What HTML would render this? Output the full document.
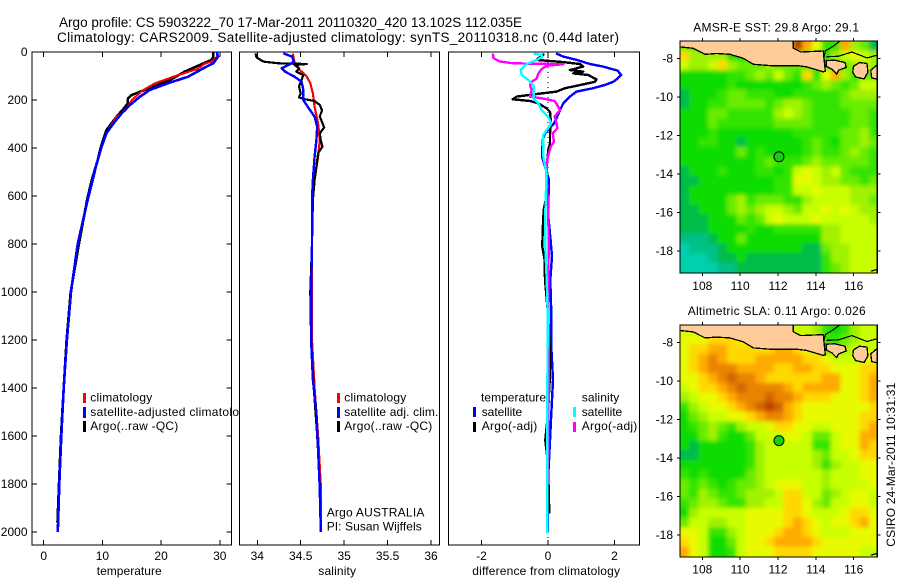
<!DOCTYPE html>
<html>
<head>
<meta charset="utf-8">
<title>Argo profile chart</title>
<style>
html,body{margin:0;padding:0;background:#fff;width:900px;height:580px;overflow:hidden}
svg{display:block}
text{font-family:"Liberation Sans",sans-serif;font-size:12px;fill:#000}
.title{font-size:13.5px}
.crisp{shape-rendering:crispEdges}
</style>
</head>
<body>
<svg id="chart" xmlns="http://www.w3.org/2000/svg" width="900" height="580" viewBox="0 0 900 580">
  <defs>
    <filter id="map-soften" filterUnits="userSpaceOnUse" x="640" y="0" width="260" height="580"><feGaussianBlur stdDeviation="2"/></filter>
    <clipPath id="clip-sst"><rect x="680" y="41" width="197.3" height="232"/></clipPath>
    <clipPath id="clip-sla"><rect x="680" y="325" width="197.3" height="232"/></clipPath>
  </defs>
  <rect x="0" y="0" width="900" height="580" fill="#fff"/>
  <text class="title" x="59" y="27" textLength="463">Argo profile: CS 5903222_70 17-Mar-2011 20110320_420 13.102S 112.035E</text>
  <text class="title" x="57" y="42" textLength="562">Climatology: CARS2009. Satellite-adjusted climatology: synTS_20110318.nc (0.44d later)</text>

  <g id="panel-t"></g>
  <g>
    <text x="90.3" y="401.7" textLength="62">climatology</text>
    <text x="90.3" y="416" textLength="162">satellite-adjusted climatology</text>
    <text x="90.3" y="430" textLength="88">Argo(..raw -QC)</text>
    <rect class="crisp" x="83" y="393" width="3" height="10" fill="#f00"/>
    <rect class="crisp" x="83" y="407" width="3" height="11" fill="#00f"/>
    <rect class="crisp" x="83" y="421" width="3" height="11" fill="#000"/>
  </g>

  <g id="panel-s"></g>
  <g>
    <text x="344.3" y="401.7" textLength="62">climatology</text>
    <text x="344.3" y="416" textLength="94">satellite adj. clim.</text>
    <text x="344.3" y="430" textLength="88">Argo(..raw -QC)</text>
    <rect class="crisp" x="337" y="393" width="3" height="10" fill="#f00"/>
    <rect class="crisp" x="337" y="407" width="3" height="11" fill="#00f"/>
    <rect class="crisp" x="337" y="421" width="3" height="11" fill="#000"/>
    <text x="326.7" y="516.7" textLength="97.7">Argo AUSTRALIA</text>
    <text x="326.7" y="530.7" textLength="95">PI: Susan Wijffels</text>
  </g>

  <g id="panel-d"></g>
  <g>
    <text x="481" y="401.7" textLength="65">temperature</text>
    <text x="481.7" y="416" textLength="40.5">satellite</text>
    <text x="481.7" y="430" textLength="55.6">Argo(-adj)</text>
    <rect class="crisp" x="473" y="407" width="3" height="10" fill="#00f"/>
    <rect class="crisp" x="473" y="422" width="3" height="10" fill="#000"/>
    <text x="581.7" y="401.7" textLength="37.6">salinity</text>
    <text x="581.7" y="416" textLength="40.5">satellite</text>
    <text x="581.7" y="430" textLength="55.6">Argo(-adj)</text>
    <rect class="crisp" x="573" y="407" width="3" height="10" fill="#0ff"/>
    <rect class="crisp" x="573" y="422" width="3" height="10" fill="#f0f"/>
  </g>

  <text x="96.7" y="575" textLength="65">temperature</text>
  <text x="318.3" y="575" textLength="37.7">salinity</text>
  <text x="472.3" y="575" textLength="147.7">difference from climatology</text>

  <text x="693.3" y="31.7" textLength="165.7">AMSR-E SST: 29.8 Argo: 29.1</text>
  <g id="map-sst"></g>
  <text x="687.7" y="315" textLength="178">Altimetric SLA: 0.11 Argo: 0.026</text>
  <g id="map-sla"></g>
  <text transform="translate(895,546.7) rotate(-90)" textLength="164">CSIRO 24-Mar-2011 10:31:31</text>
</svg>
<script>
// ---- profile axes ----
const depthTicks = [0,200,400,600,800,1000,1200,1400,1600,1800,2000];
const tempTicks = [0,10,20,30];
const salTicks = [34,34.5,35,35.5,36];
const salTickLabels = ['34','34.5','35','35.5','36'];
const diffTicks = [-2,0,2];

// ---- temperature profiles ----
const tClimDepth = [0,20,40,50,70,103,130,158,200,244,270,338,400,478,533,616,800,1000,1200,1400,1600,1800,2000];
const tClimValue = [29.6,29.5,28.6,27.3,26.3,22.1,19,17,15,13.9,12.4,10.7,9.8,8.85,8.3,7.5,5.85,4.7,4,3.45,3,2.7,2.45];
const tSatDepth = [0,20,47,60,103,130,158,186,221,255,297,338,400,478,533,616,800,1000,1200,1400,1600,1800,2000];
const tSatValue = [29.5,29.7,28.9,27.8,24.6,21.2,18.1,16.4,14.7,13.3,11.9,10.7,9.8,8.9,8.35,7.5,5.8,4.65,3.95,3.4,3,2.65,2.4];
const tArgoDepth = [0,20,33,54,82,117,150,179,192,200,216,240,270,325,360,400,450,533,616,800,1000,1200,1400,1600,1800,1960];
const tArgoValue = [28.9,28.9,28.6,26.6,24,21.5,18.1,15,14.4,14.3,14.3,13.5,12.4,10.7,10.2,9.7,9.2,8.2,7.4,6,4.6,3.9,3.4,2.95,2.6,2.35];

// ---- salinity profiles ----
const sClimDepth = [6,47,75,103,130,172,228,297,367,436,533,617,800,1000,1200,1400,1600,1800,2000];
const sClimValue = [34.41,34.43,34.49,34.57,34.61,34.64,34.66,34.70,34.72,34.70,34.66,34.64,34.63,34.63,34.63,34.66,34.70,34.73,34.73];
const sSatDepth = [6,19,40,50,68,82,103,124,158,200,228,269,311,367,436,533,617,800,1000,1200,1367,1500,1575,1783,1900,2000];
const sSatValue = [34.30,34.40,34.42,34.38,34.28,34.32,34.43,34.51,34.53,34.53,34.58,34.66,34.69,34.68,34.66,34.64,34.63,34.63,34.62,34.62,34.64,34.68,34.69,34.715,34.725,34.73];
const sArgoDepth = [6,22,40,47,50,54,68,82,96,117,144,172,189,197,204,221,242,269,314,339,367,394,422,478,533,617,800,1000,1200,1400,1600,1800,1960];
const sArgoValue = [33.98,33.99,34.07,34.24,34.57,34.43,34.48,34.45,34.53,34.51,34.48,34.5,34.48,34.55,34.66,34.72,34.745,34.72,34.77,34.72,34.73,34.75,34.70,34.68,34.66,34.64,34.63,34.61,34.62,34.65,34.69,34.72,34.73];

// ---- difference profiles ----
const dTSatDepth = [6,19,33,50,61,78,96,110,124,138,151,165,186,214,242,269,297,339,367,436,478,533,672,770,850,950,1089,1228,1367,1506,1644,1783,1922,2000];
const dTSatValue = [.24,.46,.86,1.26,1.66,2.1,2.2,2.1,1.96,1.7,1.36,.86,.66,.46,.36,.28,.18,-.09,-.16,-.18,-.09,.03,0,.07,.12,.07,.1,.1,.15,.1,.05,0,-.01,-.01];
const dTArgoDepth = [6,12,26,33,38,42,50,61,75,82,89,96,114,124,138,151,165,175,186,197,204,214,235,249,283,339,381,408,478,533,603,658,742,811,867,950,1089,1228,1367,1506,1617,1714,1922];
const dTArgoValue = [-.14,-.14,-.29,-.34,.1,.46,.96,1.06,.66,1.06,.76,1.21,1.46,1.41,.96,.51,.26,-.34,-.94,-1.06,-.54,-.29,-.04,.06,.08,.06,.06,.01,-.04,-.03,-.05,-.13,-.16,-.17,-.1,-.09,0,.05,.05,0,-.08,0,.04];
const dSArgoDepth = [6,26,40,47,51,57,71,89,110,124,138,158,186,194,204,228,242,269,297,318,339,374,394,429,464,519,672,811,950,1089,1228,1367,1617,1714,1800];
const dSArgoValue = [-1.66,-1.64,-1.44,-1.04,.46,-.04,-.19,-.29,-.34,-.49,-.54,-.49,-.54,-.14,.2,.31,.36,.2,.26,.28,.14,.18,.08,.01,-.04,-.04,.01,.02,.01,.01,.03,.02,.01,0,0];
const dSSatDepth = [6,12,22,33,50,75,96,117,138,165,193,214,242,269,297,318,346,436,492,533,672,811,950,1089,1500,2006];
const dSSatValue = [-.44,-.19,-.19,-.34,-.64,-.82,-.79,-.59,-.44,-.42,-.44,-.29,-.19,0,.1,0,-.14,-.14,-.06,-.05,-.08,-.08,-.04,-.01,-.02,-.02];

// ---- maps ----
const mapLonTicks = [108,110,112,114,116];
const mapLatTicks = [-8,-10,-12,-14,-16,-18];
const mapColors = ['#00d0ac','#00c088','#00bc48','#10dc00','#30e400','#68ec00','#a0f200','#c8ff00','#e8fa00','#ffd800','#ffaa00','#e88400','#d26400','#c03c00'];
const sstGrid = [
"555555555555da844a652","966663334444555467876","766796555655544455676","3333344565754948a6455",
"333334333333345654577","233345544433444445666","233445555456654445555","333554444467654444554",
"333544444455554444554","333433333333444445564","334433233333345435565","333333534333345445654",
"333333334544456555554","233343334434787675444","223333333344887665545","233333333344778777666",
"233335645554467777665","223335656776577878766","222333545787778777776","222333343344444667777",
"111233533333333667777","011123333333322566777","000122322222222466777","000011222222222456777"];
const slaGrid = [
"777777777777776434677","888999888888777445677","899aa99999aa987556777","89aba999aaaaa99877788",
"89abbbaaaa99aa9988899","889abcbba999999aa889a","7899abcbbbba9aaaa889a","67889abbbcbba9998889a",
"467889abcdca988888889","35677889abba988888899","34565467789988778889a","3356433577788755788aa",
"3233333467777744788a9","223333346777776577899","333333346777776467788","434333356777777677788",
"545434556788877677778","546544566679977567887","456654466779986577887","367777788889987778998",
"577667788889a987889a8","88744678889aa98777888","9873357889aaaa9888888","a87334788899998888877"];
const landMainLon = [106.78,112.8,112.8,113.2,114.39,114.45,114.5,114.39,113.5,112.99,112.29,111.58,110.7,110.17,109.46,108.76,108.14,107.52,106.78];
const landMainLat = [-7.08,-7.08,-7.45,-7.65,-7.6,-8.2,-8.65,-8.68,-8.42,-8.36,-8.36,-8.36,-8.29,-7.98,-7.77,-7.73,-7.77,-7.46,-7.38];
const baliLon = [114.55,115.0,115.54,115.6,115.2,115.1,114.85,114.55];
const baliLat = [-8.1,-8.08,-8.2,-8.45,-8.6,-8.8,-8.55,-8.4];
const lombokLon = [115.98,116.3,116.7,116.75,116.55,116.1,115.95];
const lombokLat = [-8.4,-8.2,-8.25,-8.7,-9.05,-8.95,-8.7];
const sumbawaLon = [116.9,117.2,117.4,117.4,116.95];
const sumbawaLat = [-8.6,-8.35,-8.4,-9.1,-9.0];
const inlandCoastLon = [114.42,114.5,114.92,115.27,115.5];
const inlandCoastLat = [-7.96,-7.6,-7.35,-7.09,-7.05];
const maduraCoastLon = [114.55,115.2,115.9,116.7,117.3];
const maduraCoastLat = [-7.9,-7.87,-7.65,-7.96,-7.8];
const southCoastLon = [116.9,117.25];
const southCoastLat = [-19.05,-18.95];
const argoLon = 112.05;
const argoLat = -13.1;

const NS = 'http://www.w3.org/2000/svg';
const yDepth = d => 52 + 0.24 * d;
const xTemp = v => 43.7 + 5.87 * v;
const xSal = v => 257.3 + 86.85 * (v - 34);
const xDiff = v => 548 + 33.25 * v;

function mk(parent, tag, attrs) {
  const el = document.createElementNS(NS, tag);
  for (const k in attrs) el.setAttribute(k, attrs[k]);
  parent.appendChild(el);
  return el;
}

function drawFrame(g, left, right, top, bottom) {
  const r = mk(g, 'rect', {x:left, y:top, width:right-left, height:bottom-top, fill:'#fff', stroke:'#000', 'stroke-width':1.3, class:'crisp'});
  
  
}

function drawXAxis(g, ticks, labels, xf, top, bottom) {
  ticks.forEach((t, i) => {
    const x = xf(t);
    const a = mk(g, 'line', {x1:x, x2:x, y1:top, y2:top+5, stroke:'#000', class:'crisp'});
    
    
    const b = mk(g, 'line', {x1:x, x2:x, y1:bottom-5, y2:bottom, stroke:'#000', class:'crisp'});
    
    
    const l = mk(g, 'text', {x:x, y:560, 'text-anchor':'middle'});
    
    
    l.textContent = labels[i];
  });
}

function drawCurve(g, depth, value, xf, color, width, name) {
  const pts = depth.map((d, i) => xf(value[i]).toFixed(1) + ',' + yDepth(d).toFixed(1)).join(' ');
  const p = mk(g, 'polyline', {points:pts, fill:'none', stroke:color, 'stroke-width':width, 'stroke-linejoin':'round', class:'crisp'});
  
  
}

// temperature panel
const gT = document.getElementById('panel-t');
drawFrame(gT, 32, 231.5, 52, 545);
drawXAxis(gT, tempTicks, tempTicks.map(String), xTemp, 52, 545);
depthTicks.forEach(d => {
  const y = yDepth(d);
  const a = mk(gT, 'line', {x1:32, x2:37, y1:y, y2:y, stroke:'#000', class:'crisp'});
  
  
  const b = mk(gT, 'line', {x1:226.5, x2:231.5, y1:y, y2:y, stroke:'#000', class:'crisp'});
  
  
  const l = mk(gT, 'text', {x:27.5, y:y+4, 'text-anchor':'end'});
  
  
  l.textContent = String(d);
});
drawCurve(gT, tArgoDepth, tArgoValue, xTemp, '#000', 2.6, 'temperature-argo-line');
drawCurve(gT, tClimDepth, tClimValue, xTemp, '#f00', 2, 'temperature-climatology-line');
drawCurve(gT, tSatDepth, tSatValue, xTemp, '#00f', 2.6, 'temperature-satellite-line');

// salinity panel
const gS = document.getElementById('panel-s');
drawFrame(gS, 239.5, 439.5, 52, 545);
drawXAxis(gS, salTicks, salTickLabels, xSal, 52, 545);
drawCurve(gS, sClimDepth, sClimValue, xSal, '#f00', 2.2, 'salinity-climatology-line');
drawCurve(gS, sArgoDepth, sArgoValue, xSal, '#000', 2.2, 'salinity-argo-line');
drawCurve(gS, sSatDepth, sSatValue, xSal, '#00f', 2.4, 'salinity-satellite-line');

// difference panel
const gD = document.getElementById('panel-d');
drawFrame(gD, 448.5, 639.5, 52, 545);
drawXAxis(gD, diffTicks, diffTicks.map(String), xDiff, 52, 545);
const zero = mk(gD, 'line', {x1:xDiff(0), x2:xDiff(0), y1:yDepth(0), y2:yDepth(2030), stroke:'#000', 'stroke-dasharray':'1 4', class:'crisp'});


drawCurve(gD, dTSatDepth, dTSatValue, xDiff, '#00f', 2.4, 'difference-temperature-satellite-line');
drawCurve(gD, dTArgoDepth, dTArgoValue, xDiff, '#000', 2.4, 'difference-temperature-argo-line');
drawCurve(gD, dSArgoDepth, dSArgoValue, xDiff, '#f0f', 2.4, 'difference-salinity-argo-line');
drawCurve(gD, dSSatDepth, dSSatValue, xDiff, '#0ff', 2.4, 'difference-salinity-satellite-line');

// maps
const lonLeft = 106.8, latTop = -7.1;
const xLon = lon => 702.3 + 18.93 * (lon - 108);

function drawMap(g, grid, yLat, top, bottom, labelBaseline, clipId) {
  const left = 680, right = 877.3, bleed = 12;
  const clipped = mk(g, 'g', {'clip-path':'url(#' + clipId + ')'});
  
  
  const field = mk(clipped, 'g', {filter:'url(#map-soften)'});
  
  
  grid.forEach((row, r) => {
    for (let c = 0; c < 21; c++) {
      const x0 = c === 0 ? left - bleed : xLon(lonLeft + c * 0.5);
      const x1 = c === 20 ? right + bleed : xLon(lonLeft + (c + 1) * 0.5);
      const y0 = r === 0 ? top - bleed : yLat(latTop - r * 0.5);
      const y1 = r === grid.length - 1 ? bottom + bleed : yLat(latTop - (r + 1) * 0.5);
      const ch = row[Math.min(c, row.length - 1)];
      const cell = mk(field, 'rect', {x:x0.toFixed(2), y:y0.toFixed(2), width:(x1-x0+0.4).toFixed(2), height:(y1-y0+0.4).toFixed(2), fill:mapColors[parseInt(ch, 16)], class:'crisp'});
      
      
    }
  });
  [[landMainLon, landMainLat],[baliLon, baliLat],[lombokLon, lombokLat],[sumbawaLon, sumbawaLat]].forEach(pair => {
    const pts = pair[0].map((lon, i) => xLon(lon).toFixed(1) + ',' + yLat(pair[1][i]).toFixed(1)).join(' ');
    const land = mk(clipped, 'polygon', {points:pts, fill:'#ffcc99', stroke:'#000', 'stroke-width':1.3, class:'crisp'});
    
    
  });
  [[inlandCoastLon, inlandCoastLat],[maduraCoastLon, maduraCoastLat],[southCoastLon, southCoastLat]].forEach(pair => {
    const pts = pair[0].map((lon, i) => xLon(lon).toFixed(1) + ',' + yLat(pair[1][i]).toFixed(1)).join(' ');
    const coast = mk(clipped, 'polyline', {points:pts, fill:'none', stroke:'#000', 'stroke-width':1.2, class:'crisp'});
    
    
  });
  const frame = mk(g, 'rect', {x:left, y:top, width:right-left, height:bottom-top, fill:'none', stroke:'#000', 'stroke-width':1.3, class:'crisp'});
  
  
  mapLonTicks.forEach(lon => {
    const x = xLon(lon);
    const a = mk(g, 'line', {x1:x, x2:x, y1:top-3, y2:top, stroke:'#000', class:'crisp'});
    
    
    const b = mk(g, 'line', {x1:x, x2:x, y1:bottom, y2:bottom+3, stroke:'#000', class:'crisp'});
    
    
    const l = mk(g, 'text', {x:x, y:labelBaseline, 'text-anchor':'middle'});
    
    
    l.textContent = String(lon);
  });
  mapLatTicks.forEach(lat => {
    const y = yLat(lat);
    const a = mk(g, 'line', {x1:left-3, x2:left, y1:y, y2:y, stroke:'#000', class:'crisp'});
    
    
    const b = mk(g, 'line', {x1:right, x2:right+3, y1:y, y2:y, stroke:'#000', class:'crisp'});
    
    
    const l = mk(g, 'text', {x:673, y:y+4, 'text-anchor':'end'});
    
    
    l.textContent = String(lat);
  });
  const marker = mk(g, 'circle', {cx:xLon(argoLon), cy:yLat(argoLat), r:5, fill:'#10d010', stroke:'#000', 'stroke-width':1});
  
  
}

drawMap(document.getElementById('map-sst'), sstGrid, lat => 58.7 + 19.23 * (-8 - lat), 41, 273, 290, 'clip-sst');
drawMap(document.getElementById('map-sla'), slaGrid, lat => 342.3 + 19.27 * (-8 - lat), 325, 557, 573.5, 'clip-sla');
</script>
</body>
</html>
